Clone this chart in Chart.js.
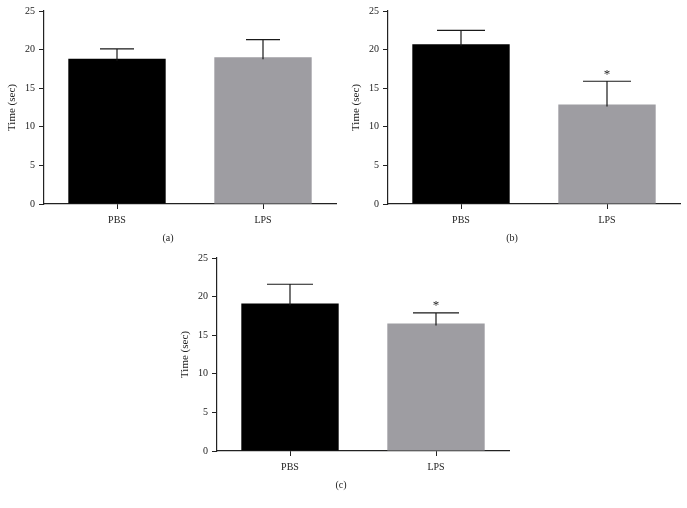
<!DOCTYPE html>
<html>
<head>
<meta charset="utf-8">
<script src="https://cdn.jsdelivr.net/npm/chart.js@4.4.1/dist/chart.umd.min.js"></script>
<style>
  html, body { margin: 0; padding: 0; background: #fff; overflow: hidden; }
  .panel { position: absolute; width: 343px; height: 250px; }
</style>
</head>
<body>
<div class="panel" style="left:0px; top:0px;"><canvas id="chartA" width="343" height="250"></canvas></div>
<div class="panel" style="left:344px; top:0px;"><canvas id="chartB" width="343" height="250"></canvas></div>
<div class="panel" style="left:173px; top:247px;"><canvas id="chartC" width="343" height="250"></canvas></div>
<script>
// datos
const categorias = ['PBS', 'LPS'];
const mediasA = [18.8, 19.0];
const errA = [1.3, 2.3];
const mediasB = [20.7, 12.9];
const errB = [1.8, 3.0];
const mediasC = [19.1, 16.5];
const errC = [2.5, 1.4];
const sigA = ['', ''];
const sigB = ['', '*'];
const sigC = ['', '*'];
const yMin = 0;
const yMax = 25;
const yPaso = 5;
const colores = ['#000000', '#9e9da2'];

const fuente = "'Liberation Serif', 'Times New Roman', serif";
const colorTexto = '#222';

// barras de error (solo hacia arriba) y asteriscos
const pluginErrores = {
    id: 'errores',
    afterDatasetsDraw(chart, args, opts) {
        const ctx = chart.ctx;
        const meta = chart.getDatasetMeta(0);
        const y = chart.scales.y;
        const medias = chart.data.datasets[0].data;
        ctx.save();
        ctx.strokeStyle = '#1a1a1a';
        ctx.lineWidth = 1.2;
        meta.data.forEach(function (barra, i) {
            const x = barra.x;
            const yBase = y.getPixelForValue(medias[i]);
            const yTop = y.getPixelForValue(medias[i] + opts.errores[i]);
            const mitad = opts.cap / 2;
            ctx.beginPath();
            ctx.moveTo(x, yBase + 2);
            ctx.lineTo(x, yTop);
            ctx.moveTo(x - mitad, yTop);
            ctx.lineTo(x + mitad, yTop);
            ctx.stroke();
            if (opts.sig[i]) {
                ctx.fillStyle = colorTexto;
                ctx.font = '13px ' + fuente;
                ctx.textAlign = 'center';
                ctx.textBaseline = 'middle';
                ctx.fillText(opts.sig[i], x, yTop - 7);
            }
        });
        ctx.restore();
    }
};

function crearPanel(id, medias, errores, sig, cap, etiqueta) {
    const ctx = document.getElementById(id).getContext('2d');
    return new Chart(ctx, {
        type: 'bar',
        data: {
            labels: categorias,
            datasets: [{
                data: medias,
                backgroundColor: colores,
                borderWidth: 0,
                categoryPercentage: 1,
                barPercentage: 0.667
            }]
        },
        options: {
            responsive: false,
            animation: false,
            devicePixelRatio: 1,
            layout: { padding: { top: 11, right: 7, left: 0, bottom: 0 } },
            plugins: {
                legend: { display: false },
                tooltip: { enabled: false },
                title: {
                    display: true,
                    text: etiqueta,
                    position: 'bottom',
                    color: colorTexto,
                    font: { family: fuente, size: 10, weight: 'normal' },
                    padding: { top: 0, bottom: 6 }
                },
                errores: { errores: errores, sig: sig, cap: cap }
            },
            scales: {
                x: {
                    grid: {
                        offset: false,
                        drawOnChartArea: false,
                        drawTicks: true,
                        tickLength: 5,
                        tickColor: '#222',
                        tickWidth: 1
                    },
                    border: { color: '#222', width: 1.2 },
                    ticks: {
                        color: colorTexto,
                        padding: 5,
                        font: { family: fuente, size: 10 }
                    },
                    afterFit(scale) { scale.height = 28; }
                },
                y: {
                    min: yMin,
                    max: yMax,
                    grid: {
                        drawOnChartArea: false,
                        drawTicks: true,
                        tickLength: 5,
                        tickColor: '#222',
                        tickWidth: 1
                    },
                    border: { color: '#222', width: 1.2 },
                    ticks: {
                        stepSize: yPaso,
                        color: colorTexto,
                        padding: 4,
                        font: { family: fuente, size: 10 }
                    },
                    title: {
                        display: true,
                        text: 'Time (sec)',
                        color: colorTexto,
                        font: { family: fuente, size: 11 },
                        padding: { top: 6, bottom: 0 }
                    },
                    afterFit(scale) { scale.width = 44; }
                }
            }
        },
        plugins: [pluginErrores]
    });
}

crearPanel('chartA', mediasA, errA, sigA, 34, '(a)');
crearPanel('chartB', mediasB, errB, sigB, 48, '(b)');
crearPanel('chartC', mediasC, errC, sigC, 46, '(c)');
</script>
</body>
</html>
